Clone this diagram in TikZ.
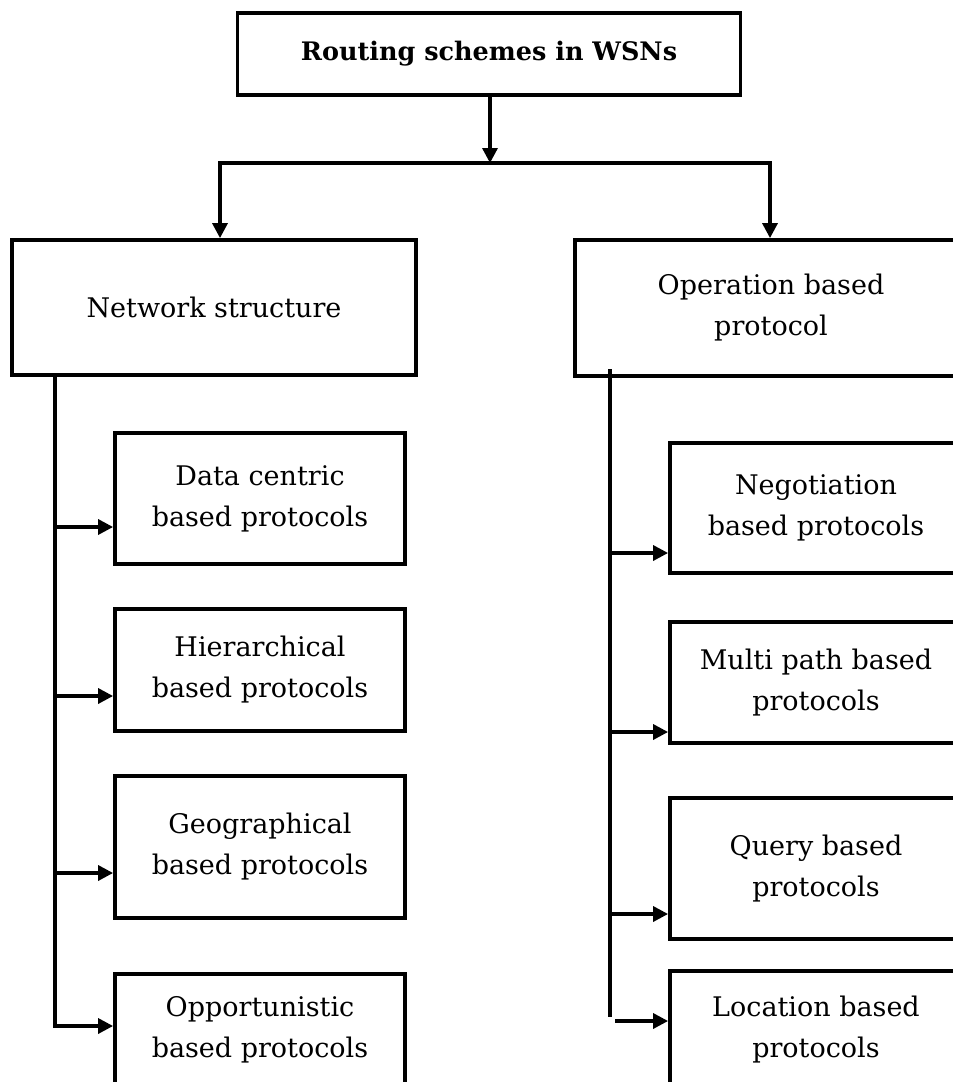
\documentclass[tikz,border=0pt]{standalone}
\usepackage{fontspec}
\setmainfont{DejaVu Serif}
\usetikzlibrary{arrows.meta}

\begin{document}
\begin{tikzpicture}[x=1pt,y=-1pt,
  box/.style={draw=black, line width=3.8pt, fill=white, align=center,
    inner sep=0pt, font=\fontsize{27}{41}\selectfont},
  link/.style={line width=3.3pt, line cap=butt},
  arr/.style={link, -{Triangle[length=15pt,width=15pt]}},
]
\useasboundingbox (0,0) rectangle (953,1082);
\clip (0,0) rectangle (953,1082);
\fill[white] (0,0) rectangle (953,1082);

% root
\node[box, minimum width=503pt, minimum height=82pt, font=\fontsize{25.5}{41}\selectfont\bfseries]
  (root) at (489,54) {Routing schemes in WSNs};

% two main branches
\node[box, minimum width=404pt, minimum height=135pt] (net) at (214,307.5) {Network structure};
\node[box, minimum width=392pt, minimum height=136pt] (op) at (771,308) {Operation based\\protocol};

% left column
\node[box, minimum width=290pt, minimum height=131pt] (dc)  at (260,498.5) {Data centric\\based protocols};
\node[box, minimum width=290pt, minimum height=122pt] (hi)  at (260,670)   {Hierarchical\\based protocols};
\node[box, minimum width=290pt, minimum height=142pt] (geo) at (260,847)   {Geographical\\based protocols};
\node[box, minimum width=290pt, minimum height=112pt] (opp) at (260,1030)  {Opportunistic\\based protocols};

% right column
\node[box, minimum width=292pt, minimum height=130pt] (neg) at (816,508)    {Negotiation\\based protocols};
\node[box, minimum width=292pt, minimum height=121pt] (mp)  at (816,682.5)  {Multi path based\\protocols};
\node[box, minimum width=292pt, minimum height=141pt] (qu)  at (816,868.5)  {Query based\\protocols};
\node[box, minimum width=292pt, minimum height=118pt] (loc) at (816,1030)   {Location based\\protocols};

% split under the root
\coordinate (mid) at (490,163);
\coordinate (bl) at (220,163);
\coordinate (br) at (770,163);
\draw[arr] (root.south -| mid) -- (mid);
\draw[link] ([xshift=-1.65pt]bl) -- ([xshift=1.65pt]br);
\draw[arr] (bl) -- (bl |- net.north);
\draw[arr] (br) -- (br |- op.north);

% left spine
\coordinate (ltop) at (55,375);
\coordinate (l1) at (55,527);
\coordinate (l2) at (55,696);
\coordinate (l3) at (55,873);
\coordinate (l4) at (55,1026);
\draw[link] (ltop) -- ([yshift=1.65pt]l4);
\draw[arr] (l1) -- (l1 -| dc.west);
\draw[arr] (l2) -- (l2 -| hi.west);
\draw[arr] (l3) -- (l3 -| geo.west);
\draw[arr] ([xshift=-1.65pt]l4) -- (l4 -| opp.west);

% right spine
\coordinate (rtop) at (610,369);
\coordinate (r1) at (610,553);
\coordinate (r2) at (610,732);
\coordinate (r3) at (610,914);
\coordinate (rend) at (610,1017);
\coordinate (r4) at (615,1021);
\draw[link] (rtop) -- (rend);
\draw[arr] (r1) -- (r1 -| neg.west);
\draw[arr] (r2) -- (r2 -| mp.west);
\draw[arr] (r3) -- (r3 -| qu.west);
\draw[arr] (r4) -- (r4 -| loc.west);
\end{tikzpicture}
\end{document}
